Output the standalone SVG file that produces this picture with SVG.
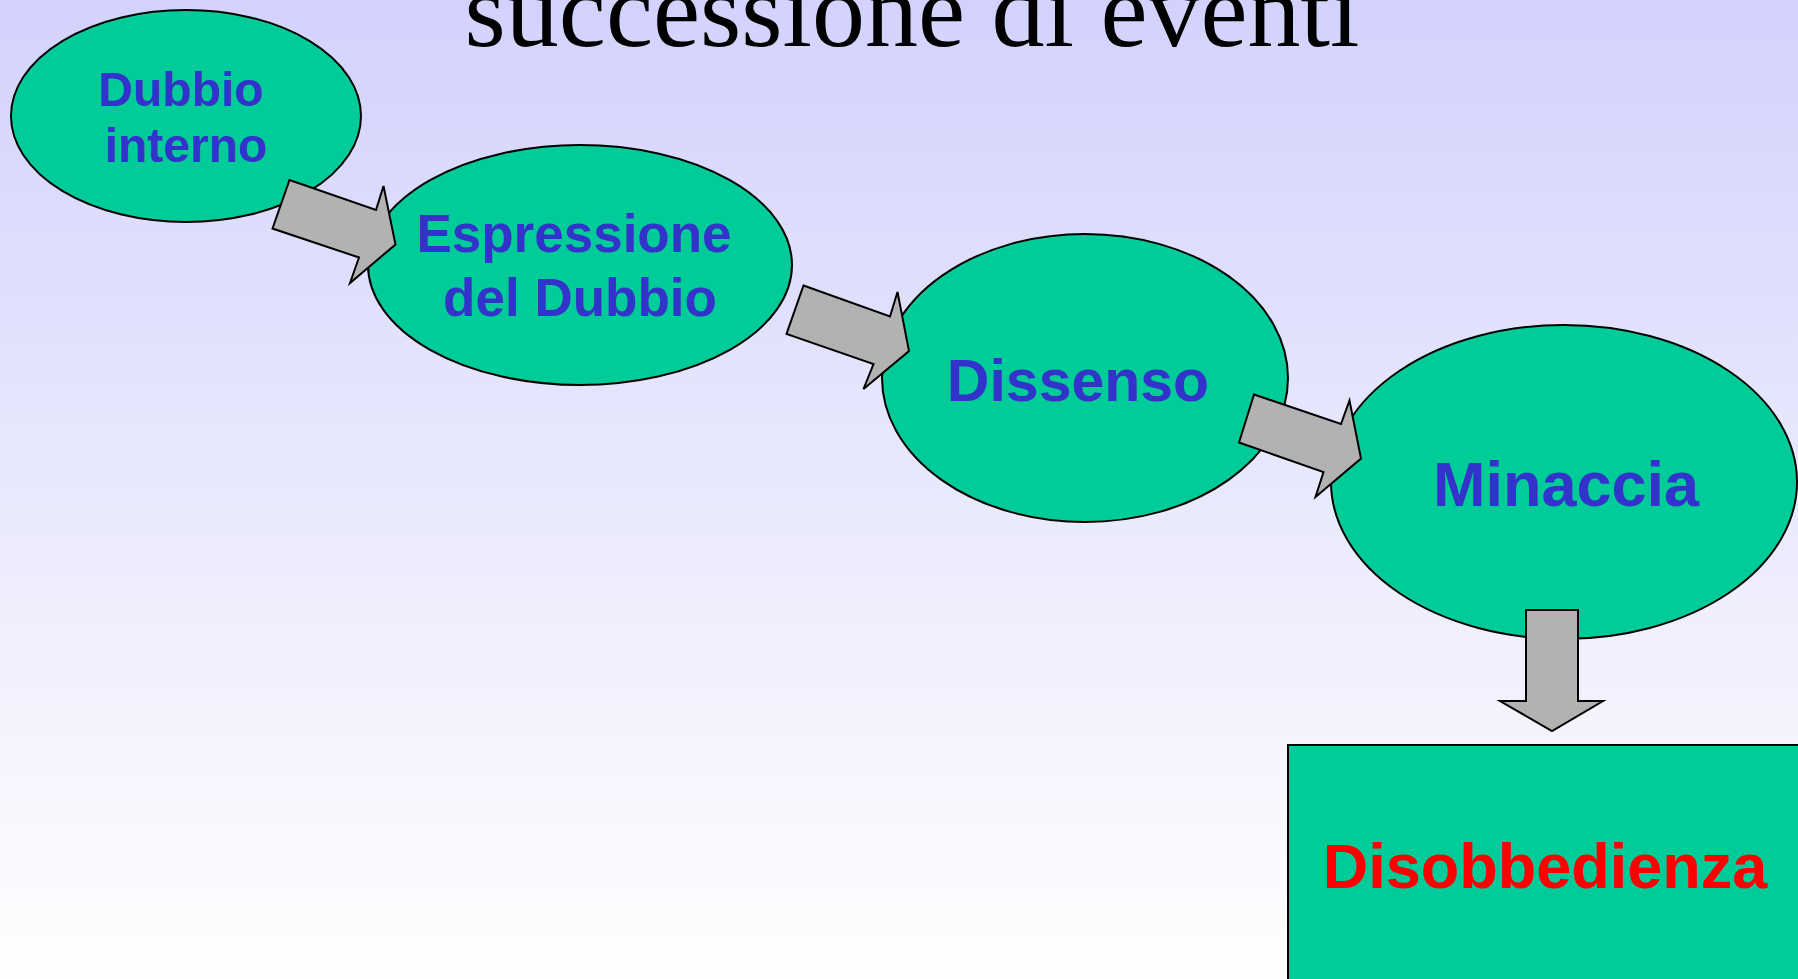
<svg xmlns="http://www.w3.org/2000/svg" width="1798" height="979" viewBox="0 0 1798 979">
<defs>
<linearGradient id="bg" x1="0" y1="0" x2="0" y2="1">
<stop offset="0" stop-color="#d2d2fd"/>
<stop offset="0.5" stop-color="#e9e9fd"/>
<stop offset="1" stop-color="#ffffff"/>
</linearGradient>
</defs>
<style>
.node{fill:#00cc99;stroke:#000;stroke-width:2}
.arrow{fill:#b2b2b2;stroke:#000;stroke-width:2;stroke-linejoin:miter}
.lbl{font-family:"Liberation Sans",Arial,sans-serif;font-weight:bold;fill:#3333cc;text-anchor:middle}
</style>
<rect x="0" y="0" width="1798" height="979" fill="url(#bg)"/>
<text x="912" y="46" font-family="Liberation Serif,'Times New Roman',serif" font-size="106" fill="#000" text-anchor="middle">successione di eventi</text>
<g id="n1">
<ellipse class="node" cx="186" cy="116" rx="175" ry="106"/>
<text class="lbl" font-size="48" x="181" y="106">Dubbio</text>
<text class="lbl" font-size="48" x="186" y="162">interno</text>
</g>
<g id="n2">
<ellipse class="node" cx="580" cy="265" rx="212" ry="120"/>
<text class="lbl" font-size="53" x="574" y="252">Espressione</text>
<text class="lbl" font-size="53" x="580" y="316">del Dubbio</text>
</g>
<g id="n3">
<ellipse class="node" cx="1085" cy="378" rx="203" ry="144"/>
<text class="lbl" font-size="59" x="1078" y="401">Dissenso</text>
</g>
<g id="n4">
<ellipse class="node" cx="1564" cy="482" rx="233" ry="157"/>
<text class="lbl" font-size="63" x="1566" y="506">Minaccia</text>
</g>
<g id="n5">
<rect class="node" x="1288" y="745" width="520" height="250"/>
<text class="lbl" font-size="63" x="1545" y="888" style="fill:#ff0000">Disobbedienza</text>
</g>
<g id="connectors">
<polygon class="arrow" points="289.5,180 376,210 383.5,186 395.5,244.5 350,283 359,257.5 272.5,228.5"/>
<polygon class="arrow" points="803.5,285.5 890,316.5 897.5,292 909,351 863.5,389 873.5,364 786.5,334"/>
<polygon class="arrow" points="1254,394.5 1341,424 1349.5,400.5 1361,458.5 1315.5,497 1323.5,472 1239,442.5"/>
<polygon class="arrow" points="1526,610 1578,610 1578,701 1603,701 1552,731 1500,701 1526,701"/>
</g>
</svg>
